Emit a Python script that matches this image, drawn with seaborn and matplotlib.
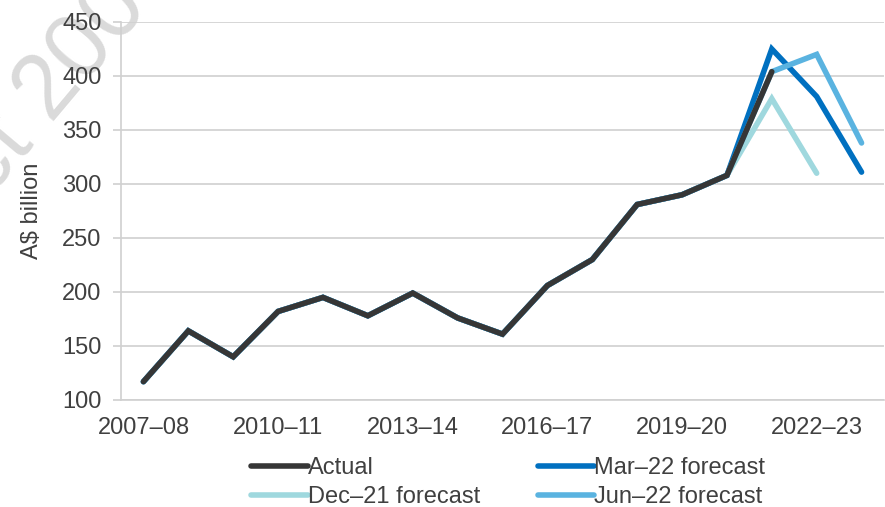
import numpy as np
import pandas as pd
import matplotlib
matplotlib.use("Agg")
import matplotlib.pyplot as plt
import seaborn as sns

# Financial years on the category axis
years = [
    "2007–08", "2008–09", "2009–10", "2010–11", "2011–12", "2012–13",
    "2013–14", "2014–15", "2015–16", "2016–17", "2017–18", "2018–19",
    "2019–20", "2020–21", "2021–22", "2022–23", "2023–24",
]
tick_years = ["2007–08", "2010–11", "2013–14", "2016–17", "2019–20", "2022–23"]

# A$ billion
actual = [117, 164, 140, 182, 195, 178, 199, 176, 161, 206, 230, 281,
          290, 308, 404, np.nan, np.nan]
dec21 = [117, 164, 140, 182, 195, 178, 199, 176, 161, 206, 230, 281,
         290, 308, 379, 310, np.nan]
mar22 = [117, 164, 140, 182, 195, 178, 199, 176, 161, 206, 230, 281,
         290, 308, 425, 381, 311]
jun22 = [117, 164, 140, 182, 195, 178, 199, 176, 161, 206, 230, 281,
         290, 308, 404, 420, 338]

series = {
    "Dec–21 forecast": (dec21, "#9fd8de"),
    "Mar–22 forecast": (mar22, "#0070c0"),
    "Jun–22 forecast": (jun22, "#5ab3e0"),
    "Actual": (actual, "#363636"),
}
legend_order = ["Actual", "Dec–21 forecast", "Mar–22 forecast", "Jun–22 forecast"]

TEXT = "#404040"
GRID = "#d0d0d0"
FS = 17

sns.set_style("white")
plt.rcParams["font.family"] = ["Liberation Sans", "DejaVu Sans"]

fig, ax = plt.subplots(figsize=(8.85, 5.07), dpi=100)
fig.subplots_adjust(left=121 / 885, right=884 / 885, top=1 - 22 / 507, bottom=1 - 400 / 507)
ax.patch.set_alpha(0)

# faint watermark in the top-left corner, behind everything
fig.text(-11 / 885, 1 - 198 / 507, "ct 2003", rotation=50, rotation_mode="anchor",
         ha="left", va="baseline", fontsize=66, color="#dadada", zorder=-5)

pos = np.arange(len(years))
for name, (vals, col) in series.items():
    df = pd.DataFrame({"pos": pos, "value": vals}).dropna()
    sns.lineplot(data=df, x="pos", y="value", color=col, linewidth=4,
                 label=name, ax=ax, sort=False, solid_capstyle="round",
                 solid_joinstyle="miter")

ax.set_xlim(-0.5, len(years) - 0.5)
ax.set_ylim(100, 450)
ax.set_yticks(np.arange(100, 451, 50))
ax.yaxis.grid(True, color=GRID, linewidth=1.2)
ax.set_axisbelow(True)

# labels on every third year, tick marks between every category
ax.set_xticks([years.index(y) for y in tick_years])
ax.set_xticklabels(tick_years)
ax.set_xticks(np.arange(-0.5, len(years), 1), minor=True)
ax.tick_params(axis="x", which="major", length=0, pad=12, labelsize=FS, labelcolor=TEXT)
ax.tick_params(axis="x", which="minor", length=6, width=1.2, color=GRID, direction="out")
ax.tick_params(axis="y", length=6, width=1.2, color=GRID, pad=8, labelsize=FS,
               labelcolor=TEXT, left=True)

for side in ["top", "right"]:
    ax.spines[side].set_visible(False)
for side in ["left", "bottom"]:
    ax.spines[side].set_color(GRID)
    ax.spines[side].set_linewidth(1.2)

ax.set_xlabel("")
ax.set_ylabel("A$ billion", fontsize=FS, color=TEXT)
ax.yaxis.set_label_coords(-0.102, 0.5)

handles, labels = ax.get_legend_handles_labels()
lookup = dict(zip(labels, handles))
ax.legend([lookup[n] for n in legend_order], legend_order, ncol=2,
          loc="upper left", bbox_to_anchor=(251 / 885, 1 - 457 / 507),
          bbox_transform=fig.transFigure, frameon=False, fontsize=FS,
          handlelength=2.4, handletextpad=0.0, columnspacing=2.45,
          labelspacing=0.3, borderpad=0, borderaxespad=0, labelcolor=TEXT)

fig.savefig("out.png", dpi=100)
